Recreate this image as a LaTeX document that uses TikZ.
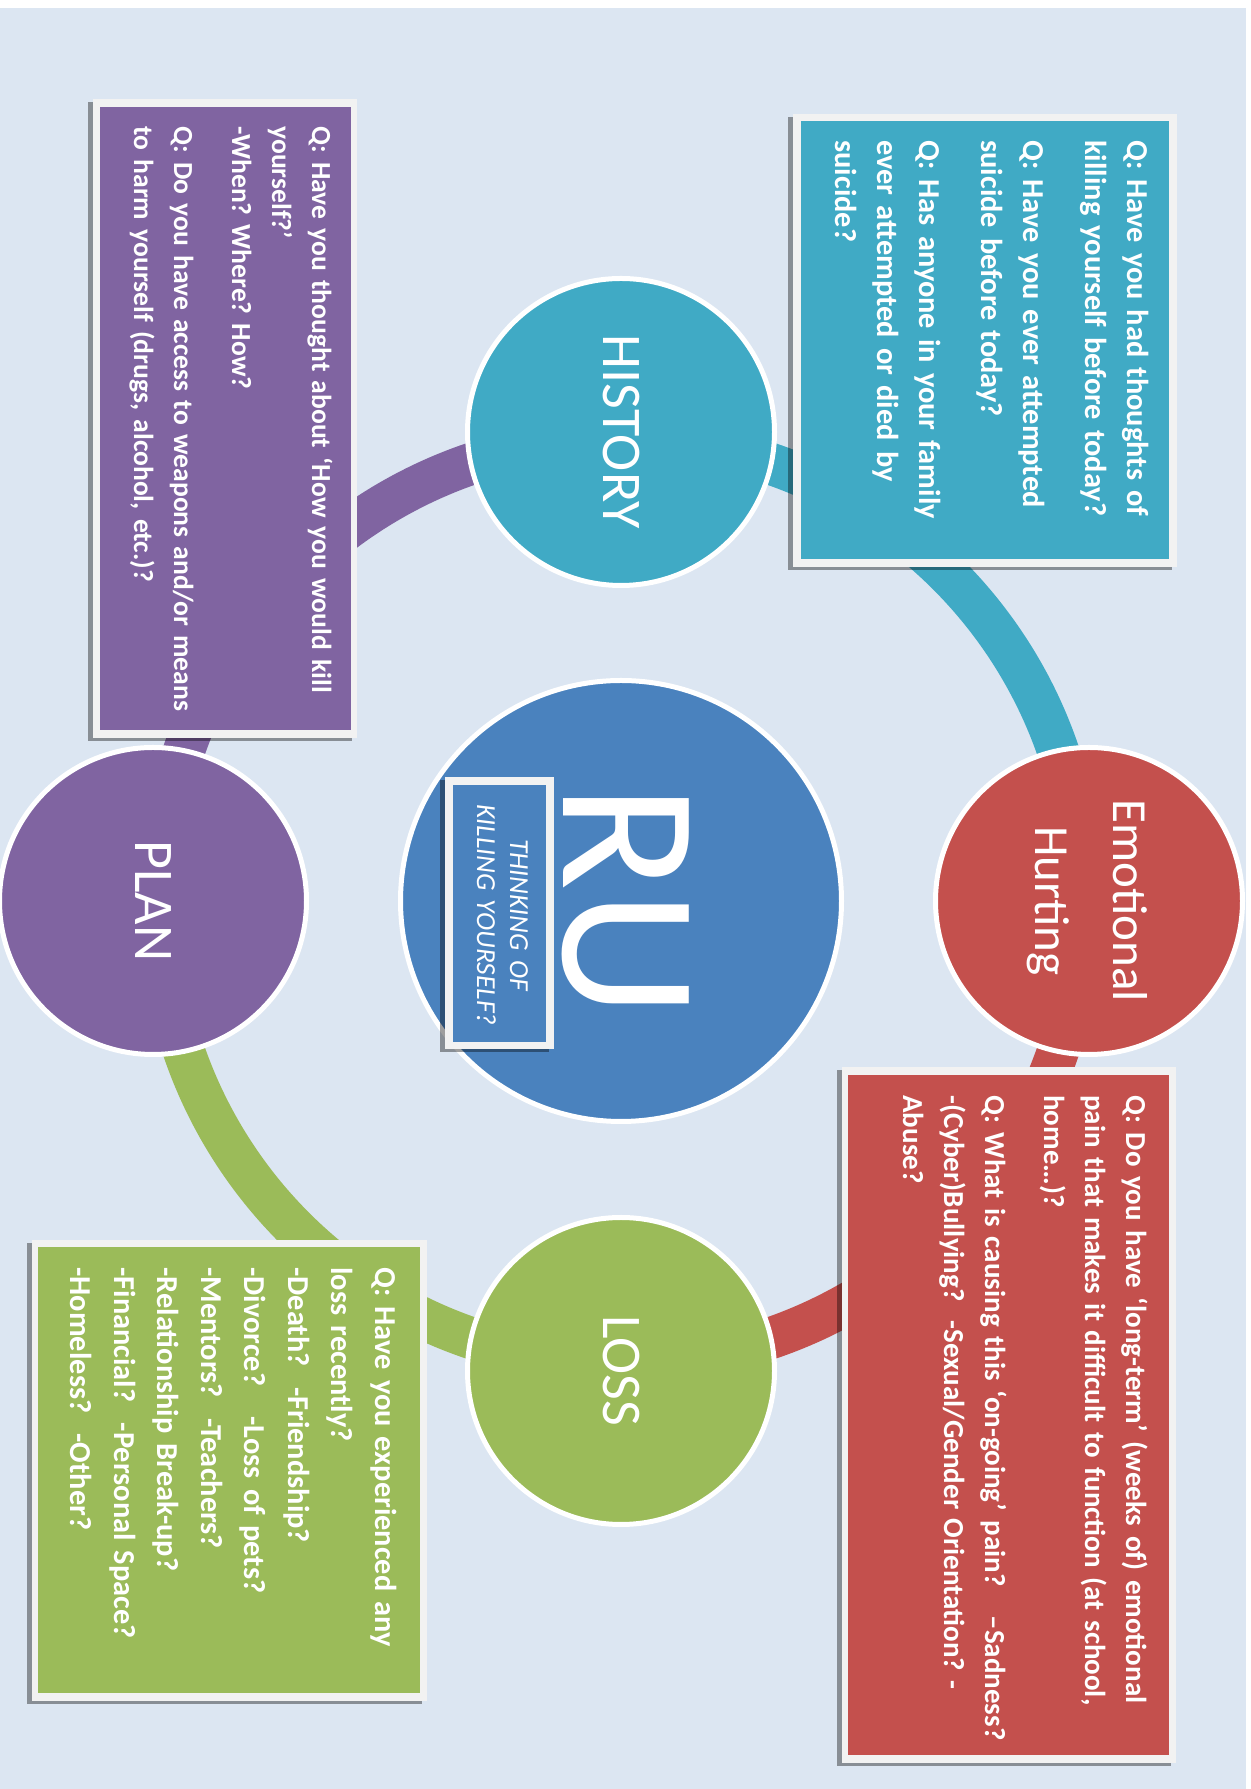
\documentclass[tikz,border=0pt]{standalone}
\usepackage{fontspec}
\setmainfont{Carlito}
\frenchspacing
\definecolor{bgblue}{HTML}{DCE6F2}
\definecolor{framegray}{HTML}{F2F2F2}
\definecolor{histc}{HTML}{40AAC5}
\definecolor{emoc}{HTML}{C4504D}
\definecolor{lossc}{HTML}{9BBB59}
\definecolor{planc}{HTML}{8064A1}
\definecolor{corec}{HTML}{4A82BE}
\begin{document}
\begin{tikzpicture}[x=0.5pt,y=0.5pt,
  band/.style={line width=21pt},
  ringnode/.style={circle, draw=white, line width=2.5pt, inner sep=0pt, minimum size=153.5pt},
  circlelabel/.style={text=white, inner sep=0pt, rotate=-90, anchor=base, font=\fontsize{28}{34}\selectfont},
  qshadow/.style={fill=black, fill opacity=0.38},
  qframe/.style={fill=framegray},
  qtext/.style={text=white, inner sep=0pt, rotate=-90, anchor=base west, align=left, text width=360pt},
]
% page and background
\fill[white] (0,0) rectangle (1251,1789);
\fill[bgblue] (0,0) rectangle (1246,1781);
\useasboundingbox (0,0) rectangle (1251,1789);

% ring joining the four outer circles
\coordinate (ringc) at (621,888);
\draw[band, histc] ([shift={(90:462)}]ringc) arc[start angle=90, end angle=0, radius=462];
\draw[band, emoc]  ([shift={(0:462)}]ringc) arc[start angle=0, end angle=-90, radius=462];
\draw[band, lossc] ([shift={(-90:462)}]ringc) arc[start angle=-90, end angle=-180, radius=462];
\draw[band, planc] ([shift={(180:462)}]ringc) arc[start angle=180, end angle=90, radius=462];

% circles
\node[ringnode, fill=corec, minimum size=220.5pt] (core) at (621,888) {};
\node[ringnode, fill=histc] (hist) at (621,1357) {};
\node[ringnode, fill=emoc]  (emo)  at (1089,888) {};
\node[ringnode, fill=lossc] (loss) at (621,418) {};
\node[ringnode, fill=planc] (plan) at (153,888) {};

% circle labels
\node[circlelabel] (histlbl) at (603,1357) {HISTORY};
\node[circlelabel] (losslbl) at (603,418) {LOSS};
\node[circlelabel] (planlbl) at (135,888) {PLAN};
\node[circlelabel, font=\fontsize{24.5}{39}\selectfont, text width=125pt, align=center] (emolbl) at (1113,888) {Emotional\\Hurting};
\node[circlelabel, font=\fontsize{98}{110}\selectfont] (rulbl) at (563,888) {RU};

% caption box inside the centre circle
\fill[qshadow] (440,737) rectangle (549,1009);
\fill[qframe] (445,740) rectangle (554,1012);
\fill[corec] (453,747) rectangle (546,1004);
\node[text=white, inner sep=0pt, rotate=-90, anchor=base, text width=130pt, align=center,
      font=\itshape\fontsize{13.75}{16.5}\selectfont] (sub) at (510,874) {THINKING OF\\KILLING YOURSELF?};

% HISTORY questions
\fill[qshadow] (788,1219) rectangle (1172,1672);
\fill[qframe] (793,1222) rectangle (1177,1675);
\fill[histc] (801,1230) rectangle (1169,1668);
\node[qtext, font=\bfseries\fontsize{15.2}{21}\selectfont] (histq) at (1127,1649)
 {Q: Have you had thoughts of\\killing yourself before today?\\[10pt]Q: Have you ever attempted\\suicide before today?\\[10pt]Q: Has anyone in your family\\ever attempted or died by\\suicide?};

% PLAN questions
\fill[qshadow] (88,1048) rectangle (352,1687);
\fill[qframe] (93,1051) rectangle (357,1690);
\fill[planc] (100,1059) rectangle (351,1682);
\node[qtext, font=\bfseries\fontsize{13.8}{20}\selectfont] (planq) at (312,1663)
 {Q: Have you thought about ‘How you would kill\\yourself?’\\-When? Where? How?\\[9pt]Q: Do you have access to weapons and/or means\\to harm yourself (drugs, alcohol, etc.)?};

% EMOTIONAL HURTING questions
\fill[qshadow] (837,23) rectangle (1171,719);
\fill[qframe] (842,26) rectangle (1176,722);
\fill[emoc] (848,34) rectangle (1169,714);
\node[qtext, font=\bfseries\fontsize{14.5}{20.5}\selectfont] (emoq) at (1126,694)
 {Q: Do you have ‘long-term’ (weeks of) emotional\\pain that makes it difficult to function (at school,\\home…)?\\[9pt]Q: What is causing this ‘on-going’ pain?~~ –Sadness?\\-(Cyber)Bullying?~ -Sexual/Gender Orientation? -\\Abuse?};

% LOSS questions
\fill[qshadow] (27,85) rectangle (422,546);
\fill[qframe] (32,88) rectangle (427,549);
\fill[lossc] (38,96) rectangle (420,542);
\node[qtext, font=\bfseries\fontsize{15.2}{21.75}\selectfont] (lossq) at (375,522)
 {Q: Have you experienced any\\loss recently?\\-Death?~ -Friendship?\\-Divorce?~~ -Loss of pets?\\-Mentors?~ -Teachers?\\-Relationship Break-up?\\-Financial?~ -Personal Space?\\-Homeless?~ -Other?};
\end{tikzpicture}
\end{document}
